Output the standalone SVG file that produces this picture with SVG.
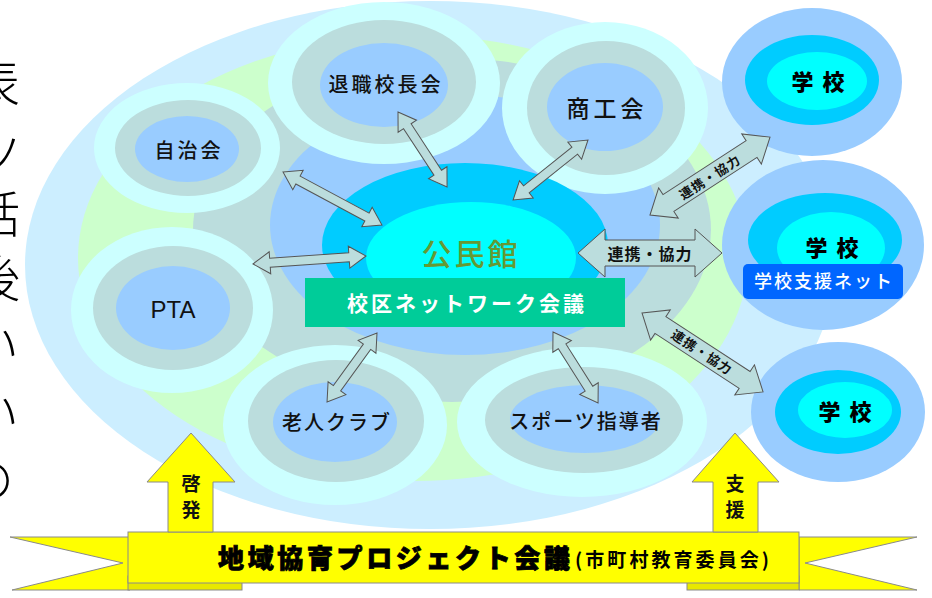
<svg xmlns="http://www.w3.org/2000/svg" width="932" height="598" viewBox="0 0 932 598">
<style>
text{font-family:"Noto Sans CJK JP","Noto Sans",sans-serif;text-anchor:middle;}
.r1{fill:#CCFFFF}.r2{fill:#BBDDDD}.r3{fill:#99CCFF}
.lbl{font-size:20px;font-weight:500;fill:#111;letter-spacing:3px}
.s1{fill:#99CCFF}.s2{fill:#00CCFF}.s3{fill:#00FFFF}
.sch{font-size:22px;font-weight:900;fill:#000;letter-spacing:2px}
.arr{fill:#BBDDDD;stroke:#555;stroke-width:1}
.yel{fill:#FFFF00;stroke:#8a8a8a;stroke-width:1}
.yeld{fill:#E8E800;stroke:#8a8a8a;stroke-width:1}
.frag{font-size:50px;font-weight:300;fill:#000;text-anchor:start}
.link{font-size:16px;font-weight:700;fill:#111;letter-spacing:1px}
.dlink{font-size:13px;font-weight:700;fill:#111;letter-spacing:1px}
.yt{font-size:19px;font-weight:700;fill:#111}
</style>

<g id="edge-fragments">
<text class="frag"><tspan x="-30" y="101">表</tspan><tspan x="-24" y="175">ノ</tspan><tspan x="-30" y="233">話</tspan><tspan x="-30" y="297">後</tspan><tspan x="-31" y="364">い</tspan><tspan x="-31" y="432">い</tspan><tspan x="-36" y="498">の</tspan></text>
</g>

<g id="background">
<ellipse cx="430" cy="265" rx="405" ry="264" fill="#CCEEFF"/>
<ellipse cx="413" cy="258" rx="335" ry="223" fill="#CCFFCC"/>
<ellipse cx="452" cy="230" rx="259" ry="172" fill="#BBDDDD"/>
<ellipse cx="465" cy="225" rx="195" ry="130" fill="#99CCFF"/>
</g>

<g id="node-taishoku">
<ellipse class="r1" cx="384" cy="83" rx="116" ry="81"/>
<ellipse class="r2" cx="384" cy="82" rx="92" ry="62"/>
<ellipse class="r3" cx="384" cy="85" rx="64" ry="42"/>
<text class="lbl" x="386" y="92">退職校長会</text>
</g>
<g id="node-shokokai">
<ellipse class="r1" cx="605" cy="108" rx="103" ry="86"/>
<ellipse class="r2" cx="606" cy="108" rx="79" ry="67"/>
<ellipse class="r3" cx="605" cy="107" rx="58" ry="44"/>
<text class="lbl" x="607" y="117" style="font-size:23px;letter-spacing:4px">商工会</text>
</g>
<g id="node-jichikai">
<ellipse class="r1" cx="187" cy="148" rx="93" ry="65"/>
<ellipse class="r2" cx="188" cy="148" rx="73" ry="48"/>
<ellipse class="r3" cx="187" cy="149" rx="52" ry="33"/>
<text class="lbl" x="189" y="158">自治会</text>
</g>
<g id="node-pta">
<ellipse class="r1" cx="172" cy="310" rx="101" ry="83"/>
<ellipse class="r2" cx="173" cy="308" rx="80" ry="62"/>
<ellipse class="r3" cx="173" cy="308" rx="57" ry="42"/>
<text x="173" y="318" style="font-family:'Liberation Sans',Arial,sans-serif;font-size:24px;fill:#111">PTA</text>
</g>
<g id="node-rojin">
<ellipse class="r1" cx="335" cy="425" rx="112" ry="80"/>
<ellipse class="r2" cx="336" cy="421" rx="88" ry="61"/>
<ellipse class="r3" cx="335" cy="422" rx="62" ry="40"/>
<text class="lbl" x="337" y="430" style="letter-spacing:2px">老人クラブ</text>
</g>
<g id="node-sports">
<ellipse class="r1" cx="582" cy="422" rx="125" ry="75"/>
<ellipse class="r2" cx="584" cy="420" rx="99" ry="53"/>
<ellipse class="r3" cx="585" cy="419" rx="75" ry="34"/>
<text class="lbl" x="586" y="429" style="letter-spacing:2px">スポーツ指導者</text>
</g>

<g id="node-kominkan">
<ellipse cx="465" cy="245" rx="143" ry="82" fill="#00CCFF"/>
<ellipse cx="471" cy="258" rx="105" ry="56" fill="#00FFFF"/>
<text x="471" y="265" style="font-size:30px;font-weight:500;fill:#669933;letter-spacing:3px">公民館</text>
<rect x="305" y="278" width="320" height="49" fill="#00CC99"/>
<text x="467" y="311" style="font-size:21px;font-weight:700;fill:#fff;letter-spacing:3px">校区ネットワーク会議</text>
</g>

<g id="node-school1">
<ellipse class="s1" cx="812" cy="82" rx="90" ry="74"/>
<ellipse class="s2" cx="812" cy="80" rx="67" ry="45"/>
<ellipse class="s3" cx="817" cy="81" rx="50" ry="29"/>
<text class="sch" x="819" y="90">学 校</text>
</g>
<g id="node-school2">
<ellipse class="s1" cx="823" cy="245" rx="101" ry="85"/>
<ellipse class="s2" cx="825" cy="240" rx="77" ry="47"/>
<ellipse class="s3" cx="831" cy="248" rx="54" ry="36"/>
<text class="sch" x="833" y="256">学 校</text>
<rect x="743" y="264" width="160" height="35" rx="5" fill="#0066FF"/>
<text x="824" y="288" style="font-size:18px;font-weight:500;fill:#fff;letter-spacing:2px">学校支援ネット</text>
</g>
<g id="node-school3">
<ellipse class="s1" cx="838" cy="412" rx="87" ry="70"/>
<ellipse class="s2" cx="838" cy="412" rx="63" ry="42"/>
<ellipse class="s3" cx="845" cy="410" rx="47" ry="28"/>
<text class="sch" x="846" y="420">学 校</text>
</g>

<g id="node-banner">
<polygon class="yel" points="130,537 10,537 123,563 12,590 130,590"/>
<polygon class="yel" points="799,537 917,537 805,563 917,590 799,590"/>
<rect class="yeld" x="128" y="576" width="114" height="14"/>
<rect class="yeld" x="687" y="576" width="112" height="14"/>
<rect class="yel" x="128" y="532" width="671" height="51"/>
<text x="394" y="568" textLength="352" lengthAdjust="spacing" style="font-size:26px;font-weight:900;fill:#000;stroke:#000;stroke-width:0.8">地域協育プロジェクト会議</text>
<text x="672" y="567" textLength="194" lengthAdjust="spacing" style="font-size:19px;font-weight:700;fill:#000">(市町村教育委員会)</text>
</g>

<g id="connectors">
<path class="arr" transform="translate(283,172) rotate(28.2)" d="M0,0 L17,-11 L17,-4.5 L95.3,-4.5 L95.3,-11 L112.3,0 L95.3,11 L95.3,4.5 L17,4.5 L17,11 Z"/>
<path class="arr" transform="translate(253,264) rotate(-4.05)" d="M0,0 L17,-11 L17,-4.5 L96.3,-4.5 L96.3,-11 L113.3,0 L96.3,11 L96.3,4.5 L17,4.5 L17,11 Z"/>
<path class="arr" transform="translate(398,112) rotate(56.8)" d="M0,0 L17,-11 L17,-4.5 L72.6,-4.5 L72.6,-11 L89.6,0 L72.6,11 L72.6,4.5 L17,4.5 L17,11 Z"/>
<path class="arr" transform="translate(588,140) rotate(141.3)" d="M0,0 L17,-11 L17,-4.5 L79,-4.5 L79,-11 L96,0 L79,11 L79,4.5 L17,4.5 L17,11 Z"/>
<path class="arr" transform="translate(377,333) rotate(125.9)" d="M0,0 L17,-11 L17,-4.5 L68.2,-4.5 L68.2,-11 L85.2,0 L68.2,11 L68.2,4.5 L17,4.5 L17,11 Z"/>
<path class="arr" transform="translate(553,332) rotate(57.6)" d="M0,0 L17,-11 L17,-4.5 L67.1,-4.5 L67.1,-11 L84.1,0 L67.1,11 L67.1,4.5 L17,4.5 L17,11 Z"/>
<path class="arr" transform="translate(578,253)" d="M0,0 L27,-24 L27,-13 L117,-13 L117,-24 L144,0 L117,24 L117,13 L27,13 L27,24 Z"/>
<text class="link" x="650" y="260">連携・協力</text>
<path class="arr" transform="translate(650,215) rotate(-33)" d="M0,0 L22,-18 L22,-10 L121.1,-10 L121.1,-18 L143.1,0 L121.1,18 L121.1,10 L22,10 L22,18 Z"/>
<text class="dlink" transform="translate(710,177) rotate(-33)" y="5">連携・協力</text>
<path class="arr" transform="translate(642,313) rotate(33.1)" d="M0,0 L22,-18 L22,-10 L122.5,-10 L122.5,-18 L144.5,0 L122.5,18 L122.5,10 L22,10 L22,18 Z"/>
<text class="dlink" transform="translate(702,352) rotate(33.1)" y="5">連携・協力</text>
</g>

<g id="node-keihatsu">
<polygon class="yel" points="191,433 235,482 213,482 213,532 168,532 168,482 147,482"/>
<text class="yt" x="191" y="491">啓</text>
<text class="yt" x="191" y="517">発</text>
</g>
<g id="node-shien">
<polygon class="yel" points="735,433 779,482 758,482 758,532 713,532 713,482 692,482"/>
<text class="yt" x="735" y="491">支</text>
<text class="yt" x="735" y="517">援</text>
</g>
</svg>
